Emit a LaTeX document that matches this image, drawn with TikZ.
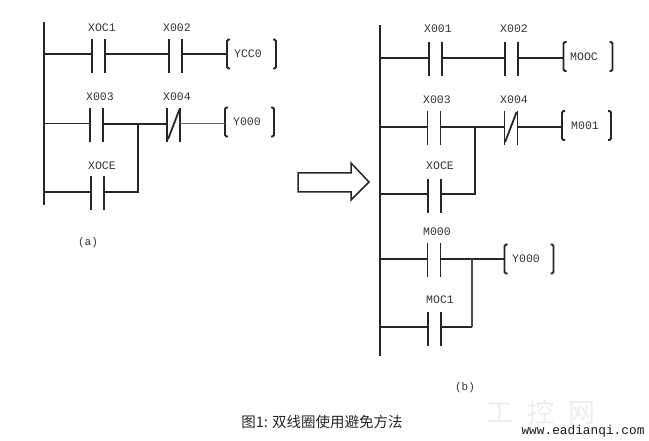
\documentclass[tikz,border=0pt]{standalone}
\usepackage{fontspec}
\setmainfont{Liberation Mono}
\newfontfamily\cjk{Noto Sans CJK SC}
\tikzset{
	contact/.style={minimum width=#1,minimum height=34pt,inner sep=0pt,outer sep=0pt},
	plate/.style={line width=#1,black!85},
	coil/.style={minimum width=49pt,minimum height=29pt,inner sep=0pt,outer sep=0pt},
	wire/.style={line width=1.8pt,black!85},
	tag/.style={font=\fontsize{11.5}{12}\selectfont,text=black!80,inner sep=0pt},
	note/.style={font=\fontsize{11}{12}\selectfont,text=black!80,inner sep=0pt},
}
\begin{document}
\begin{tikzpicture}[x=1pt,y=-1pt]
	\useasboundingbox (0,0) rectangle (649,441);
	\path
	(44,22) coordinate (LT)
	(44,205) coordinate (LB)
	(380,25) coordinate (RT)
	(380,356) coordinate (RB)
	(44,54) coordinate (L1)
	(44,124) coordinate (L2)
	(44,192) coordinate (L3)
	(380,58) coordinate (R1)
	(380,127) coordinate (R2)
	(380,194) coordinate (R3)
	(380,259) coordinate (R4)
	(380,327) coordinate (R5)
	(138,124) coordinate (LJ)
	(138,192) coordinate (LK)
	(475,127) coordinate (RJ)
	(475,194) coordinate (RK)
	(472,259) coordinate (SJ)
	(472,327) coordinate (SK)
	;
	% power rails
	\draw[wire] (LT)--(LB);
	\draw[line width=2.2pt,black!85] (RT)--(RB);
	% contacts
	\foreach \t/\x/\y/\n/\lx/\ly/\w in {
		a/98.5/56/XOC1/102/28/1.9pt,
		b/175.5/56/X002/177/28/1.9pt,
		c/96.5/125/X003/100/97/1.9pt,
		d/173.5/125/X004/177/97/1.9pt,
		e/97.5/193/XOCE/102/166/1.9pt,
		f/435.5/59/X001/438/29/1.9pt,
		g/511.5/59/X002/514/29/1.9pt,
		h/433.5/128/X003/437/100/1pt,
		i/510.5/128/X004/514/100/1pt,
		j/434.5/196/XOCE/440/166/1.9pt,
		k/433.5/260/M000/437/232/1pt,
		l/434.5/329/MOC1/440/300/1.9pt}{
		\node[contact=13pt] (\t) at (\x,\y) {};
		\draw[plate=\w] (\t.north west)--(\t.south west) (\t.north east)--(\t.south east);
		\node[tag] (\t n) at (\lx,\ly) {\n};
	}
	\draw[wire,shorten >=1pt,shorten <=3pt] (d.south west)--(d.north east);
	\draw[wire,shorten >=1pt,shorten <=3pt] (i.south west)--(i.north east);
	% coils
	\foreach \t/\x/\y/\n/\lx in {
		u/251.5/54/YCC0/248,
		v/249.5/122/Y000/247,
		w/588/56.5/MOOC/584,
		s/586.5/125.5/M001/585,
		z/529/259/Y000/526}{
		\node[coil] (\t) at (\x,\y) {};
		\draw[wire,rounded corners=1.5pt] ([xshift=3pt]\t.north west)--(\t.north west)--(\t.south west)--([xshift=3pt]\t.south west);
		\draw[wire,rounded corners=1.5pt] ([xshift=-3pt]\t.north east)--(\t.north east)--(\t.south east)--([xshift=-3pt]\t.south east);
		\node[tag] (\t n) at (\lx,\y) {\n};
	}
	% rungs
	\draw[wire] (L1)--(a.west |- L1) (a.east |- L1)--(b.west |- L1) (b.east |- L1)--(u.west |- L1);
	\draw[line width=1pt,black!85] (L2)--(c.west |- L2);
	\draw[wire] (c.east |- L2)--(d.west |- L2);
	\draw[line width=1pt,black!60] (d.east |- L2)--(v.west |- L2);
	\draw[wire] (L3)--(e.west |- L3) (e.east |- L3)--(LK)--(LJ);
	\draw[wire] (R1)--(f.west |- R1) (f.east |- R1)--(g.west |- R1) (g.east |- R1)--(w.west |- R1);
	\draw[wire] (R2)--(h.west |- R2) (h.east |- R2)--(i.west |- R2) (i.east |- R2)--(s.west |- R2);
	\draw[wire] (R3)--(j.west |- R3) (j.east |- R3)--(RK)--(RJ);
	\draw[wire] (R4)--(k.west |- R4) (k.east |- R4)--(z.west |- R4);
	\draw[wire] (R5)--(l.west |- R5) (l.east |- R5)--(SK);
	\draw[line width=1.1pt,black!70] (SK)--(SJ);
	% watermark
	\node[text=black!7,inner sep=0pt] (mark) at (541,412) {\cjk\fontsize{27}{28}\selectfont 工\hspace{14pt}控\hspace{14pt}网};
	% arrow
	\draw[line width=1.5pt,black!85] (298,173)--(351,173)--(351,163)--(369,182)--(351,200)--(351,192)--(298,192)--cycle;
	% captions
	\node[note] (capa) at (88,243) {(a)};
	\node[note] (capb) at (465,388) {(b)};
	\node[inner sep=0pt,text=black!85] (title) at (322,422) {\cjk\fontsize{14.5}{15}\selectfont 图1: 双线圈使用避免方法};
	\node[tag,font=\fontsize{12.8}{13}\selectfont,text=black!90] (site) at (583,431) {www.eadianqi.com};
\end{tikzpicture}
\end{document}
